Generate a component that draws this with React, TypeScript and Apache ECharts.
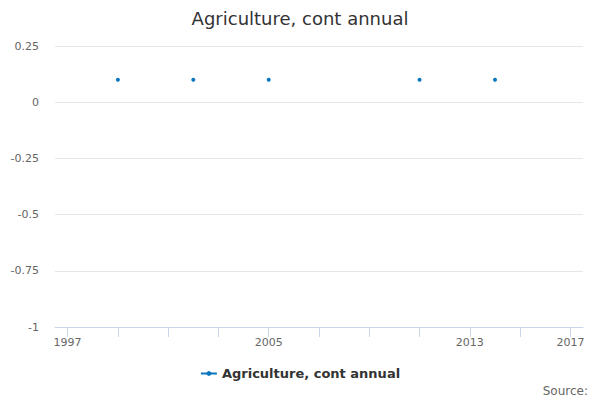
import React, { useEffect, useRef } from "react";
import * as echarts from "echarts";

const years: string[] = [
  "1997", "1998", "1999", "2000", "2001", "2002", "2003", "2004", "2005", "2006",
  "2007", "2008", "2009", "2010", "2011", "2012", "2013", "2014", "2015", "2016", "2017",
];
const values: (number | null)[] = [
  null, null, 0.1, null, null, 0.1, null, null, 0.1, null,
  null, null, null, null, 0.1, null, null, 0.1, null, null, null,
];
const seriesName = "Agriculture, cont annual";
const shownLabels: string[] = ["1997", "2005", "2013", "2017"];

const FONT = "DejaVu Sans, Verdana, sans-serif";

export default function App() {
  const ref = useRef<HTMLDivElement>(null);
  useEffect(() => {
    if (!ref.current) return;
    const chart = echarts.init(ref.current, undefined, { renderer: "svg" });
    chart.setOption({
      animation: false,
      textStyle: { fontFamily: FONT },
      title: {
        text: "Agriculture, cont annual",
        left: "center",
        top: 4,
        textStyle: { fontSize: 18, fontWeight: "normal", color: "#333333", fontFamily: FONT },
      },
      grid: { left: 55, right: 17, top: 46, bottom: 73, containLabel: false },
      xAxis: {
        type: "category",
        data: years,
        boundaryGap: true,
        axisLine: { show: true, onZero: false, lineStyle: { color: "#ccd6eb", width: 1 } },
        axisTick: {
          show: true,
          interval: 1,
          alignWithLabel: true,
          inside: false,
          length: 10,
          lineStyle: { color: "#ccd6eb", width: 1 },
        },
        axisLabel: {
          interval: (_i: number, v: string) => shownLabels.includes(v),
          color: "#666666",
          fontSize: 11,
          margin: 10,
          fontFamily: FONT,
        },
        splitLine: { show: false },
      },
      yAxis: {
        type: "value",
        min: -1,
        max: 0.25,
        interval: 0.25,
        axisLine: { show: false },
        axisTick: { show: false },
        axisLabel: { color: "#666666", fontSize: 11, margin: 16, fontFamily: FONT },
        splitLine: { lineStyle: { color: "#e6e6e6" } },
      },
      legend: {
        bottom: 15,
        left: "center",
        itemWidth: 16,
        itemHeight: 6,
        data: [seriesName],
        textStyle: { fontSize: 13, fontWeight: "bold", color: "#333333", fontFamily: FONT },
      },
      series: [
        {
          name: seriesName,
          type: "line",
          data: values,
          connectNulls: false,
          symbol: "circle",
          symbolSize: 4,
          showSymbol: true,
          itemStyle: { color: "#0a77bd" },
          lineStyle: { color: "#0a77bd", width: 2 },
        },
      ],
      graphic: [
        {
          type: "text",
          right: 12,
          bottom: 3,
          style: { text: "Source:", fill: "#666666", fontSize: 12, fontFamily: FONT },
        },
      ],
    });
    return () => chart.dispose();
  }, []);
  return (
    <div
      ref={ref}
      style={{ position: "absolute", left: 0, top: 0, width: 600, height: 400 }}
    />
  );
}
